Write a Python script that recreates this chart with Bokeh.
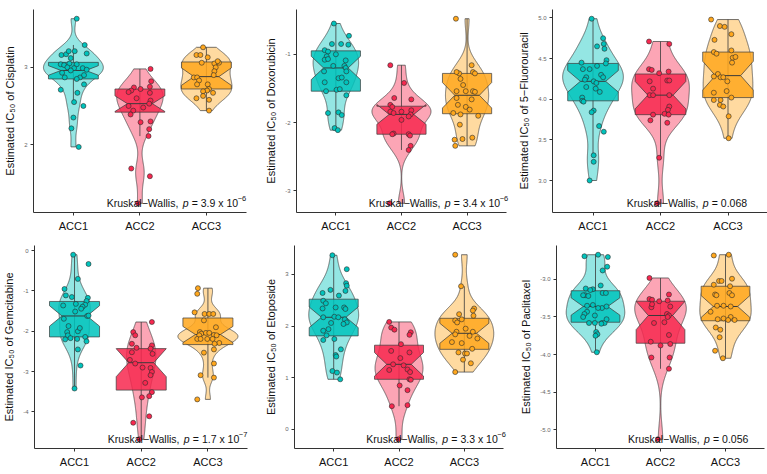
import numpy as np
from bokeh.plotting import figure
from bokeh.models import Range1d, FixedTicker, Label, NumeralTickFormatter
from bokeh.layouts import column, row
from bokeh.embed import file_html
from bokeh.resources import INLINE

GROUPS = ["ACC1", "ACC2", "ACC3"]
COLORS = ["#00C3BC", "#F7284F", "#FFA71D"]
FONT = "Liberation Sans"

# ---------------- Cisplatin ----------------
CIS_ACC1_Y = [3.63, 3.29, 3.18, 3.16, 3.17, 3.21, 3.21, 3.12, 3.04, 3.03, 3.05, 3.04, 3.00, 2.99, 2.99, 2.97, 2.93, 2.87, 2.87, 2.90, 2.85, 2.71, 2.78, 2.67, 2.55, 2.50, 2.35, 2.21, 1.97, 2.96]
CIS_ACC1_DX = [0.05, 0.17, 0.20, -0.18, -0.11, -0.07, 0.02, -0.04, -0.19, -0.14, -0.06, 0.05, -0.09, 0.01, 0.14, 0.20, -0.17, -0.13, 0.10, 0.16, 0.05, -0.19, 0.16, 0.06, 0.01, 0.15, 0.00, -0.03, 0.08, -0.04]
CIS_ACC2_Y = [2.98, 2.82, 2.75, 2.74, 2.70, 2.68, 2.72, 2.67, 2.57, 2.53, 2.50, 2.44, 2.39, 2.48, 2.29, 2.30, 2.20, 2.11, 1.69, 1.59, 1.24, 2.60]
CIS_ACC2_DX = [0.16, 0.17, 0.15, -0.09, -0.13, -0.17, 0.01, 0.15, 0.16, 0.14, -0.17, -0.10, -0.14, 0.05, 0.01, 0.16, 0.14, 0.13, -0.13, 0.15, -0.03, -0.05]
CIS_ACC3_Y = [3.26, 3.16, 3.16, 3.06, 3.05, 3.06, 3.00, 2.95, 2.87, 2.87, 2.90, 2.83, 2.78, 2.78, 2.72, 2.70, 2.69, 2.67, 2.60, 2.63, 2.58, 2.44, 3.08, 3.13]
CIS_ACC3_DX = [-0.05, -0.15, -0.09, 0.19, 0.12, -0.07, 0.14, 0.12, -0.19, -0.14, 0.11, -0.11, -0.14, 0.02, 0.04, 0.01, -0.05, 0.10, -0.15, -0.05, 0.04, 0.04, 0.17, 0.02]
CIS_BOX = [[2.85, 2.96, 3.065], [2.42, 2.53, 2.72], [2.72, 2.88, 3.07]]

# ---------------- Doxorubicin ----------------
DOX_ACC1_Y = [-0.55, -0.73, -0.85, -0.85, -0.86, -0.94, -0.96, -1.00, -1.03, -1.08, -1.07, -1.09, -1.17, -1.17, -1.20, -1.25, -1.25, -1.35, -1.34, -1.41, -1.41, -1.54, -1.52, -1.51, -1.60, -1.86, -1.85, -1.89, -2.08, -2.11]
DOX_ACC1_DX = [-0.03, 0.20, -0.06, 0.08, 0.19, -0.17, -0.12, 0.00, -0.14, -0.17, -0.12, 0.15, -0.04, 0.13, 0.15, -0.18, 0.16, 0.04, 0.09, -0.17, 0.16, -0.15, 0.01, 0.06, 0.16, -0.12, 0.04, 0.09, -0.02, 0.03]
DOX_ACC2_Y = [-1.16, -1.42, -1.64, -1.66, -1.74, -1.77, -1.84, -1.86, -1.84, -1.82, -1.88, -1.91, -1.96, -2.16, -2.17, -2.17, -2.19, -2.34, -2.40, -3.18]
DOX_ACC2_DX = [-0.17, 0.04, -0.11, 0.15, -0.17, -0.14, -0.17, -0.12, 0.00, 0.15, 0.14, 0.11, 0.00, -0.12, -0.14, 0.11, 0.13, 0.14, 0.11, -0.18]
DOX_ACC3_Y = [-0.48, -1.16, -1.28, -1.26, -1.26, -1.28, -1.36, -1.54, -1.54, -1.54, -1.55, -1.64, -1.66, -1.74, -1.77, -1.81, -1.90, -1.86, -1.88, -2.03, -2.25, -2.24, -2.22, -2.34, -1.45]
DOX_ACC3_DX = [-0.17, 0.07, -0.12, -0.16, 0.09, 0.12, -0.10, -0.16, -0.02, 0.09, 0.12, -0.16, 0.07, -0.14, -0.02, 0.04, 0.17, -0.21, -0.10, -0.11, -0.19, -0.07, 0.08, -0.18, -0.06]
DOX_BOX = [[-1.54, -1.20, -0.95], [-2.17, -1.88, -1.76], [-1.87, -1.60, -1.28]]

# ---------------- 5-Fluorouracil ----------------
FU_ACC1_Y = [4.99, 4.75, 4.68, 4.65, 4.62, 4.48, 4.44, 4.45, 4.41, 4.37, 4.37, 4.27, 4.24, 4.30, 4.27, 4.22, 4.20, 4.15, 4.13, 4.09, 4.02, 3.98, 3.97, 3.86, 3.84, 3.67, 3.60, 3.31, 3.23, 3.00]
FU_ACC1_DX = [-0.02, 0.15, 0.16, 0.06, 0.17, 0.20, 0.19, -0.17, 0.06, -0.15, -0.05, -0.10, -0.12, 0.12, 0.15, 0.01, 0.05, -0.10, 0.04, 0.10, -0.16, -0.16, -0.14, 0.01, -0.02, 0.09, 0.16, 0.01, 0.01, -0.05]
FU_ACC2_Y = [4.71, 4.68, 4.37, 4.36, 4.32, 4.34, 4.22, 4.23, 4.23, 4.13, 4.05, 4.05, 4.05, 3.91, 3.87, 3.81, 3.82, 3.81, 3.74, 3.71, 3.28, 2.72]
FU_ACC2_DX = [-0.17, 0.13, -0.17, -0.13, -0.02, 0.12, -0.16, 0.10, 0.13, -0.11, -0.16, -0.11, 0.13, 0.13, 0.11, -0.11, 0.06, 0.12, -0.15, 0.10, -0.02, -0.05]
FU_ACC3_Y = [4.98, 4.90, 4.89, 4.80, 4.73, 4.58, 4.56, 4.60, 4.51, 4.52, 4.45, 4.31, 4.28, 4.27, 4.27, 4.22, 4.10, 4.08, 4.02, 3.99, 3.99, 3.93, 3.91, 3.79, 3.52]
FU_ACC3_DX = [-0.25, -0.12, -0.05, 0.05, -0.20, -0.21, -0.17, 0.05, 0.07, 0.11, 0.06, -0.15, -0.21, -0.11, -0.07, -0.01, -0.02, -0.21, 0.05, -0.21, -0.11, -0.12, -0.07, 0.01, 0.01]
FU_BOX = [[3.98, 4.22, 4.44], [3.81, 4.05, 4.31], [4.02, 4.29, 4.58]]

# ---------------- Gemcitabine ----------------
GEM_ACC1_Y = [-0.10, -0.33, -0.70, -0.95, -1.11, -1.15, -1.17, -1.25, -1.32, -1.34, -1.39, -1.44, -1.36, -1.62, -1.61, -1.69, -1.51, -1.87, -2.02, -2.00, -1.92, -2.10, -2.20, -2.17, -2.19, -2.14, -2.25, -2.45, -2.85, -3.42]
GEM_ACC1_DX = [-0.02, 0.21, 0.05, -0.15, -0.13, -0.04, 0.20, 0.18, 0.02, 0.16, 0.12, 0.10, -0.17, 0.19, 0.21, -0.16, 0.01, -0.09, -0.11, 0.05, 0.08, -0.10, -0.14, -0.06, 0.04, 0.16, 0.18, 0.05, 0.09, 0.00]
GEM_ACC2_Y = [-1.77, -2.02, -2.10, -2.31, -2.41, -2.35, -2.43, -2.56, -2.52, -2.71, -2.80, -2.90, -2.91, -3.01, -3.28, -3.51, -3.61, -3.64, -4.11, -4.27, -4.68, -3.09]
GEM_ACC2_DX = [0.16, -0.12, -0.09, -0.14, -0.07, 0.16, 0.14, 0.17, -0.14, -0.17, -0.09, 0.02, 0.14, 0.16, 0.06, 0.16, 0.12, 0.01, 0.12, -0.12, -0.03, 0.14]
GEM_ACC3_Y = [-0.93, -1.07, -1.53, -1.57, -1.57, -1.57, -1.73, -1.90, -2.02, -2.06, -2.10, -2.04, -2.04, -2.09, -2.10, -2.19, -2.19, -2.19, -2.19, -2.29, -2.31, -2.45, -2.53, -2.80, -3.09, -3.15, -3.69]
GEM_ACC3_DX = [-0.15, -0.16, -0.20, -0.05, 0.02, 0.08, -0.06, 0.12, -0.12, -0.10, -0.13, -0.03, 0.02, 0.09, 0.13, -0.16, -0.11, -0.01, 0.07, 0.17, 0.10, 0.09, -0.06, 0.09, -0.11, 0.09, -0.16]
GEM_BOX = [[-2.14, -1.62, -1.26], [-3.46, -2.78, -2.43], [-2.33, -2.08, -1.67]]

# ---------------- Etoposide ----------------
ETO_ACC1_Y = [3.37, 3.10, 2.83, 2.78, 2.70, 2.68, 2.64, 2.59, 2.49, 2.44, 2.34, 2.36, 2.36, 2.33, 2.18, 2.17, 2.17, 2.13, 2.07, 2.04, 2.06, 1.94, 1.91, 1.82, 1.73, 1.75, 1.55, 1.44, 1.41, 1.13, 1.10, 0.97]
ETO_ACC1_DX = [-0.02, 0.20, 0.19, 0.20, -0.05, 0.18, -0.17, 0.08, -0.16, -0.12, -0.17, 0.03, 0.16, 0.18, 0.01, 0.07, -0.16, 0.17, 0.20, 0.15, -0.04, -0.08, -0.16, -0.11, -0.16, 0.01, 0.11, 0.03, 0.04, -0.02, 0.05, 0.10]
ETO_ACC2_Y = [2.08, 1.97, 1.93, 1.88, 1.83, 1.65, 1.52, 1.49, 1.38, 1.26, 1.24, 1.16, 1.15, 1.11, 0.97, 0.96, 0.85, 0.76, 0.45, 0.47, -0.19]
ETO_ACC2_DX = [-0.15, -0.12, -0.07, 0.18, 0.16, 0.03, -0.12, 0.16, 0.02, -0.09, 0.07, 0.13, -0.15, 0.17, 0.16, 0.18, 0.01, 0.13, -0.11, 0.13, -0.01]
ETO_ACC3_Y = [3.38, 2.77, 2.34, 2.30, 2.23, 2.20, 2.11, 2.07, 2.13, 1.95, 1.89, 1.89, 1.84, 1.76, 1.81, 1.69, 1.67, 1.56, 1.49, 1.47, 1.47, 1.35, 1.28, 1.11]
ETO_ACC3_DX = [-0.14, -0.05, 0.15, 0.13, -0.08, 0.14, -0.14, -0.11, -0.04, 0.02, 0.13, -0.12, -0.14, 0.20, 0.08, -0.19, -0.04, 0.12, -0.09, 0.01, 0.04, -0.02, 0.10, -0.14]
ETO_BOX = [[1.81, 2.17, 2.52], [0.97, 1.26, 1.63], [1.55, 1.86, 2.15]]

# ---------------- Paclitaxel ----------------
PAC_ACC1_Y = [-2.69, -2.67, -2.70, -2.83, -2.88, -3.08, -3.12, -3.13, -3.14, -3.21, -3.21, -3.22, -3.18, -3.18, -3.34, -3.35, -3.38, -3.36, -3.38, -3.43, -3.46, -3.48, -3.50, -3.58, -3.58, -3.58, -3.58, -3.53, -3.59, -3.70, -3.73, -3.75, -3.97]
PAC_ACC1_DX = [-0.17, 0.04, 0.19, 0.18, 0.11, 0.08, -0.15, -0.04, -0.08, -0.16, -0.19, -0.11, 0.11, 0.16, -0.04, -0.13, 0.10, 0.17, 0.04, -0.13, -0.17, -0.01, -0.19, -0.10, -0.01, 0.10, 0.14, 0.17, 0.09, 0.01, 0.03, 0.00, 0.02]
PAC_ACC2_Y = [-2.98, -3.26, -3.27, -3.29, -3.20, -3.28, -3.37, -3.33, -3.36, -3.46, -3.48, -3.50, -3.57, -3.58, -3.74, -3.83, -3.88, -3.86, -4.04, -4.04, -4.19, -5.13]
PAC_ACC2_DX = [-0.17, -0.17, -0.13, -0.02, 0.13, 0.11, -0.14, -0.13, 0.15, 0.10, 0.13, 0.11, 0.06, -0.10, 0.13, -0.15, 0.00, 0.15, -0.14, 0.14, 0.13, -0.04]
PAC_ACC3_Y = [-2.68, -2.67, -2.99, -3.02, -3.02, -3.07, -3.09, -3.20, -3.21, -3.18, -3.21, -3.35, -3.43, -3.35, -3.36, -3.53, -3.52, -3.50, -3.54, -3.54, -3.64, -3.67, -3.77, -3.95, -4.05]
PAC_ACC3_DX = [-0.18, 0.05, 0.10, -0.10, -0.06, -0.18, 0.07, -0.16, -0.14, 0.06, 0.10, -0.13, -0.23, -0.03, 0.08, -0.12, -0.03, 0.08, 0.04, 0.14, -0.15, -0.08, -0.09, -0.16, -0.04]
PAC_BOX = [[-3.57, -3.36, -3.15], [-3.85, -3.48, -3.29], [-3.55, -3.36, -3.09]]

Y_LABELS = ["Estimated IC\u2085\u2080 of Cisplatin", "Estimated IC\u2085\u2080 of Doxorubicin",
            "Estimated IC\u2085\u2080 of 5\u2212Fluorouracil", "Estimated IC\u2085\u2080 of Gemcitabine",
            "Estimated IC\u2085\u2080 of Etoposide", "Estimated IC\u2085\u2080 of Paclitaxel"]
Y_TICKS = [[2, 3], [-3, -2, -1], [3.0, 3.5, 4.0, 4.5, 5.0], [-4, -3, -2, -1, 0], [0, 1, 2, 3],
           [-5.0, -4.5, -4.0, -3.5, -3.0]]
P_MANT = ["3.9 x 10", "3.4 x 10", "0.068", "1.7 x 10", "3.3 x 10", "0.056"]
P_EXP = ["\u22126", "\u22126", "", "\u22127", "\u22126", ""]


def kde(y):
    y = np.asarray(y, dtype=float)
    n = len(y)
    sd = y.std(ddof=1)
    q75, q25 = np.percentile(y, [75, 25])
    s = min(sd, (q75 - q25) / 1.34)
    if s <= 0:
        s = sd
    bw = 0.9 * s * n ** -0.2
    grid = np.linspace(y.min(), y.max(), 512)
    d = np.exp(-0.5 * ((grid[:, None] - y[None, :]) / bw) ** 2).sum(1) / (n * bw * np.sqrt(2 * np.pi))
    return grid, d


def make_panel(idx, ys, dxs, boxes, width, height, bl, bt, bb, xhi, decimals):
    allv = np.concatenate([np.asarray(v, float) for v in ys])
    lo, hi = allv.min(), allv.max()
    rng = hi - lo
    ylo, yhi = lo - 0.05 * rng, hi + 0.05 * rng
    p = figure(width=width, height=height, x_range=Range1d(0.4, xhi),
               y_range=Range1d(ylo, yhi),
               output_backend="svg", toolbar_location=None,
               min_border_left=bl, min_border_right=0, min_border_top=bt, min_border_bottom=bb)
    p.outline_line_color = None
    p.grid.visible = False
    p.background_fill_color = "white"
    p.border_fill_color = "white"

    dens = [kde(v) for v in ys]
    dmax = max(d.max() for _, d in dens)
    for g in range(3):
        c = g + 1
        col = COLORS[g]
        grid, d = dens[g]
        hw = 0.45 * d / dmax
        vx = np.concatenate([c - hw, (c + hw)[::-1]])
        vy = np.concatenate([grid, grid[::-1]])
        p.patch(vx, vy, fill_color=col, fill_alpha=0.42, line_color="#3a3a3a", line_width=0.7)

        y = np.asarray(ys[g], float)
        q1, med, q3 = boxes[g]
        iqr = q3 - q1
        wl = y[y >= q1 - 1.5 * iqr].min()
        wh = y[y <= q3 + 1.5 * iqr].max()
        p.segment(x0=[c], y0=[wl], x1=[c], y1=[wh], line_color="#3a3a3a", line_width=0.8)
        nt = 1.58 * iqr / np.sqrt(len(y))
        w = 0.375
        bx = [c - w, c - w, c - w / 2, c - w, c - w, c + w, c + w, c + w / 2, c + w, c + w]
        by = [q3, med + nt, med, med - nt, q1, q1, med - nt, med, med + nt, q3]
        p.patch(bx, by, fill_color=col, fill_alpha=0.85, line_color="#3a3a3a", line_width=0.7)
        p.segment(x0=[c - w / 2], y0=[med], x1=[c + w / 2], y1=[med], line_color="#3a3a3a", line_width=1.0)

        n = min(len(ys[g]), len(dxs[g]))
        px = [c + dxs[g][i] for i in range(n)]
        p.scatter(px, list(ys[g][:n]), size=5, fill_color=col, line_color="#2b2b2b", line_width=0.6)

    for ax in (p.xaxis[0], p.yaxis[0]):
        ax.axis_line_color = "#333333"
        ax.axis_line_width = 1
        ax.major_tick_line_color = "#333333"
        ax.major_tick_in = 0
        ax.major_tick_out = 3
        ax.minor_tick_line_color = None
    p.xaxis.bounds = (0.4, min(3.6, xhi))
    p.xaxis.ticker = FixedTicker(ticks=[1, 2, 3])
    p.xaxis.major_label_overrides = {1: "ACC1", 2: "ACC2", 3: "ACC3"}
    p.xaxis.major_label_text_font = FONT
    p.xaxis.major_label_text_font_size = "11px"
    p.xaxis.major_label_text_color = "#111111"
    p.xaxis.major_label_standoff = 4

    p.yaxis.ticker = FixedTicker(ticks=Y_TICKS[idx])
    p.yaxis.formatter = NumeralTickFormatter(format="0.0" if decimals else "0")
    p.yaxis.major_label_text_font = FONT
    p.yaxis.major_label_text_font_size = "6px"
    p.yaxis.major_label_text_color = "#666666"
    p.yaxis.major_label_standoff = 3
    p.yaxis.axis_label = Y_LABELS[idx]
    p.yaxis.axis_label_text_font = FONT
    p.yaxis.axis_label_text_font_size = "11px"
    p.yaxis.axis_label_text_font_style = "normal"
    p.yaxis.axis_label_text_color = "#111111"
    p.yaxis.axis_label_standoff = 5

    common = dict(x=1.5, y=lo, text_font=FONT, text_color="#111111", text_baseline="alphabetic",
                  text_align="left")
    p.add_layout(Label(text="Kruskal\u2212Wallis,", text_font_size="10.5px", x_offset=0, **common))
    p.add_layout(Label(text="p", text_font_size="10.5px", text_font_style="italic", x_offset=76, **common))
    p.add_layout(Label(text="= " + P_MANT[idx], text_font_size="10.5px", x_offset=85, **common))
    if P_EXP[idx]:
        p.add_layout(Label(text=P_EXP[idx], text_font_size="7.5px", x_offset=131, y_offset=5, **common))
    return p


p1 = make_panel(0, [CIS_ACC1_Y, CIS_ACC2_Y, CIS_ACC3_Y], [CIS_ACC1_DX, CIS_ACC2_DX, CIS_ACC3_DX], CIS_BOX,
                262, 240, 33, 9, 28, 0.4 + 229 / 66.5, False)
p2 = make_panel(1, [DOX_ACC1_Y, DOX_ACC2_Y, DOX_ACC3_Y], [DOX_ACC1_DX, DOX_ACC2_DX, DOX_ACC3_DX], DOX_BOX,
                253, 240, 31, 9, 28, 0.4 + 222 / 66.5, False)
p3 = make_panel(2, [FU_ACC1_Y, FU_ACC2_Y, FU_ACC3_Y], [FU_ACC1_DX, FU_ACC2_DX, FU_ACC3_DX], FU_BOX,
                252, 240, 37, 9, 28, 0.4 + 215 / 67.5, True)
p4 = make_panel(3, [GEM_ACC1_Y, GEM_ACC2_Y, GEM_ACC3_Y], [GEM_ACC1_DX, GEM_ACC2_DX, GEM_ACC3_DX], GEM_BOX,
                262, 234, 34, 5, 26, 0.4 + 228 / 66.7, False)
p5 = make_panel(4, [ETO_ACC1_Y, ETO_ACC2_Y, ETO_ACC3_Y], [ETO_ACC1_DX, ETO_ACC2_DX, ETO_ACC3_DX], ETO_BOX,
                253, 234, 27, 5, 26, 0.4 + 226 / 66.8, False)
p6 = make_panel(5, [PAC_ACC1_Y, PAC_ACC2_Y, PAC_ACC3_Y], [PAC_ACC1_DX, PAC_ACC2_DX, PAC_ACC3_DX], PAC_BOX,
                252, 234, 41, 5, 26, 0.4 + 211 / 65.0, True)

layout = column(row(p1, p2, p3), row(p4, p5, p6))
open("out.html", "w").write(file_html(layout, INLINE))
